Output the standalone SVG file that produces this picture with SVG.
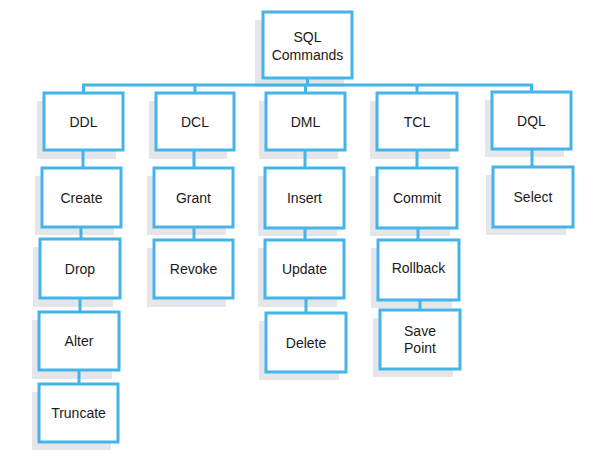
<svg xmlns="http://www.w3.org/2000/svg" width="591" height="450" viewBox="0 0 591 450">
  <style>
    .shadow { fill: #e4e6e9; }
    .box { fill: #ffffff; stroke: #45b4e9; stroke-width: 3; }
    .label { font-family: "Liberation Sans", Arial, sans-serif; font-size: 14px; fill: #1a1a1a; text-anchor: middle; dominant-baseline: central; }
    .wire { fill: none; stroke: #45b4e9; stroke-width: 3; }
  </style>
  <rect width="591" height="450" fill="#ffffff"/>

  <!-- root -->
  <g id="sql-commands">
    <rect class="shadow" x="255" y="20" width="89" height="67"/>
    <rect class="box" x="263" y="12" width="89" height="66"/>
    <text class="label" x="307.5" y="37">SQL</text>
    <text class="label" x="307.5" y="55">Commands</text>
  </g>

  <!-- DDL column -->
  <g id="ddl">
    <rect class="shadow" x="37" y="101" width="79" height="58"/>
    <rect class="box" x="44" y="93" width="79" height="57"/>
    <text class="label" x="83.5" y="121.5">DDL</text>
  </g>
  <g id="create">
    <rect class="shadow" x="35" y="176" width="79" height="59"/>
    <rect class="box" x="42" y="168" width="79" height="59"/>
    <text class="label" x="81.5" y="197.5">Create</text>
  </g>
  <g id="drop">
    <rect class="shadow" x="33" y="247" width="80" height="60"/>
    <rect class="box" x="40" y="239" width="80" height="59"/>
    <text class="label" x="80" y="268.5">Drop</text>
  </g>
  <g id="alter">
    <rect class="shadow" x="32" y="320" width="80" height="59"/>
    <rect class="box" x="39" y="312" width="80" height="58"/>
    <text class="label" x="79" y="341">Alter</text>
  </g>
  <g id="truncate">
    <rect class="shadow" x="32" y="392" width="79" height="59"/>
    <rect class="box" x="39" y="384" width="79" height="58"/>
    <text class="label" x="78.5" y="413">Truncate</text>
  </g>

  <!-- DCL column -->
  <g id="dcl">
    <rect class="shadow" x="149" y="101" width="78" height="58"/>
    <rect class="box" x="156" y="93" width="78" height="57"/>
    <text class="label" x="195" y="121.5">DCL</text>
  </g>
  <g id="grant">
    <rect class="shadow" x="147" y="176" width="79" height="59"/>
    <rect class="box" x="154" y="168" width="79" height="59"/>
    <text class="label" x="193.5" y="197.5">Grant</text>
  </g>
  <g id="revoke">
    <rect class="shadow" x="147" y="248" width="79" height="59"/>
    <rect class="box" x="154" y="240" width="79" height="58"/>
    <text class="label" x="193.5" y="269">Revoke</text>
  </g>

  <!-- DML column -->
  <g id="dml">
    <rect class="shadow" x="259" y="101" width="79" height="58"/>
    <rect class="box" x="266" y="93" width="79" height="57"/>
    <text class="label" x="305.5" y="121.5">DML</text>
  </g>
  <g id="insert">
    <rect class="shadow" x="258" y="176" width="79" height="60"/>
    <rect class="box" x="265" y="168" width="79" height="60"/>
    <text class="label" x="304.5" y="198">Insert</text>
  </g>
  <g id="update">
    <rect class="shadow" x="258" y="248" width="79" height="59"/>
    <rect class="box" x="265" y="240" width="79" height="58"/>
    <text class="label" x="304.5" y="269">Update</text>
  </g>
  <g id="delete">
    <rect class="shadow" x="259" y="321" width="80" height="59"/>
    <rect class="box" x="266" y="313" width="80" height="59"/>
    <text class="label" x="306" y="342.5">Delete</text>
  </g>

  <!-- TCL column -->
  <g id="tcl">
    <rect class="shadow" x="370" y="101" width="80" height="58"/>
    <rect class="box" x="377" y="93" width="80" height="57"/>
    <text class="label" x="417" y="121.5">TCL</text>
  </g>
  <g id="commit">
    <rect class="shadow" x="370" y="176" width="80" height="60"/>
    <rect class="box" x="377" y="168" width="80" height="60"/>
    <text class="label" x="417" y="198">Commit</text>
  </g>
  <g id="rollback">
    <rect class="shadow" x="371" y="248" width="81" height="60"/>
    <rect class="box" x="378" y="240" width="81" height="60"/>
    <text class="label" x="418.5" y="268">Rollback</text>
  </g>
  <g id="save-point">
    <rect class="shadow" x="373" y="318" width="80" height="59"/>
    <rect class="box" x="380" y="310" width="80" height="59"/>
    <text class="label" x="420" y="331">Save</text>
    <text class="label" x="420" y="348">Point</text>
  </g>

  <!-- DQL column -->
  <g id="dql">
    <rect class="shadow" x="485" y="100" width="79" height="57"/>
    <rect class="box" x="492" y="92" width="79" height="57"/>
    <text class="label" x="531.5" y="120.5">DQL</text>
  </g>
  <g id="select">
    <rect class="shadow" x="486" y="175" width="80" height="60"/>
    <rect class="box" x="493" y="167" width="80" height="60"/>
    <text class="label" x="533" y="197">Select</text>
  </g>

  <!-- connectors -->
  <g id="connectors">
    <path class="wire" d="M307.5 78 V85"/>
    <path class="wire" d="M83.5 93 V85 H531.5 V92"/>
    <path class="wire" d="M195 85 V93"/>
    <path class="wire" d="M305.5 85 V93"/>
    <path class="wire" d="M417 85 V93"/>

    <path class="wire" d="M83 150 V168"/>
    <path class="wire" d="M81 227 V239"/>
    <path class="wire" d="M80 298 V312"/>
    <path class="wire" d="M79 370 V384"/>

    <path class="wire" d="M194 150 V168"/>
    <path class="wire" d="M194 227 V240"/>

    <path class="wire" d="M305 150 V168"/>
    <path class="wire" d="M305 228 V240"/>
    <path class="wire" d="M306 298 V313"/>

    <path class="wire" d="M417 150 V168"/>
    <path class="wire" d="M418 228 V240"/>
    <path class="wire" d="M420 300 V310"/>

    <path class="wire" d="M532 149 V167"/>
  </g>
</svg>
